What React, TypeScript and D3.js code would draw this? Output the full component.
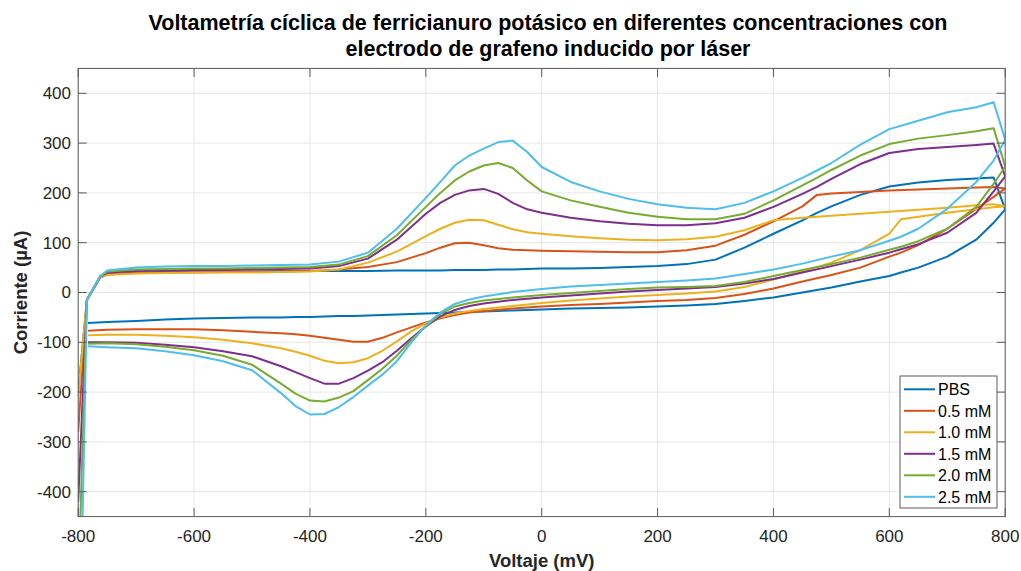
import React from "react";
import * as d3 from "d3";

// Voltage grids (mV)
const fwdV = [-800, -785, -762, -750, -700, -650, -600, -550, -500, -450, -400, -350, -300, -250, -200, -175, -150, -125, -100, -75, -50, -25, 0, 50, 100, 150, 200, 250, 300, 350, 400, 450, 475, 500, 550, 600, 650, 700, 750, 780, 800];
const revV = [800, 780, 750, 700, 650, 620, 600, 550, 500, 450, 400, 350, 300, 250, 200, 150, 100, 50, 0, -50, -100, -125, -150, -175, -200, -225, -250, -275, -300, -325, -350, -375, -400, -425, -450, -500, -550, -600, -650, -700, -750, -783];

// Currents (µA)
const pbsFwd = [-200, -15, 30, 36, 40, 41, 42, 42, 42, 43, 43, 43, 43, 44, 44, 44, 45, 45, 45, 46, 46, 47, 48, 48, 49, 51, 53, 57, 66, 90, 118, 145, 160, 173, 196, 213, 221, 226, 229, 231, 167];
const pbsRev = [167, 140, 106, 72, 50, 40, 33, 22, 10, 0, -10, -17, -23, -26, -28, -30, -31, -32, -34, -36, -38, -39, -40, -41, -42, -43, -44, -45, -46, -47, -47, -48, -49, -49, -50, -50, -51, -52, -54, -57, -59, -61];

const c05Fwd = [-280, -15, 32, 37, 39, 40, 40, 41, 41, 42, 43, 46, 51, 61, 79, 90, 99, 100, 95, 89, 86, 85, 84, 83, 82, 81, 81, 85, 94, 116, 143, 173, 196, 199, 202, 205, 207, 209, 211, 212, 209];
const c05Rev = [209, 192, 168, 128, 95, 80, 72, 50, 35, 22, 8, -3, -11, -15, -17, -20, -23, -25, -28, -32, -37, -40, -45, -52, -60, -70, -80, -91, -99, -99, -95, -91, -87, -84, -82, -79, -76, -74, -74, -74, -75, -77];

const c10Fwd = [-207, -12, 30, 35, 38, 39, 40, 40, 40, 41, 42, 46, 60, 82, 113, 128, 140, 146, 145, 136, 127, 121, 118, 113, 109, 106, 105, 107, 112, 125, 145, 150, 152, 154, 158, 162, 166, 170, 175, 177, 173];
const c10Rev = [173, 171, 167, 160, 152, 147, 118, 85, 60, 42, 26, 11, 2, -2, -5, -8, -12, -16, -21, -27, -33, -37, -42, -50, -62, -78, -98, -117, -132, -140, -142, -137, -127, -119, -112, -102, -95, -90, -87, -85, -85, -86];

const c15Fwd = [-420, -15, 32, 40, 43, 44, 45, 45, 46, 47, 48, 53, 68, 106, 158, 180, 196, 205, 208, 198, 180, 167, 160, 150, 143, 138, 135, 135, 139, 150, 172, 198, 212, 228, 258, 280, 288, 292, 296, 299, 233];
const c15Rev = [233, 203, 160, 120, 97, 87, 80, 66, 53, 40, 27, 18, 11, 8, 5, 2, -2, -6, -10, -15, -22, -27, -35, -48, -68, -92, -117, -140, -157, -172, -183, -183, -172, -160, -148, -128, -118, -110, -105, -101, -100, -100];

const c20Fwd = [-600, -15, 33, 42, 46, 47, 48, 48, 49, 50, 51, 56, 73, 115, 172, 200, 225, 243, 255, 260, 250, 225, 203, 185, 172, 160, 152, 147, 147, 158, 185, 215, 230, 246, 275, 298, 309, 316, 324, 330, 253];
const c20Rev = [253, 218, 172, 128, 103, 92, 86, 70, 57, 45, 33, 21, 13, 11, 10, 7, 3, -1, -5, -10, -16, -21, -28, -43, -68, -95, -127, -153, -176, -198, -211, -219, -217, -203, -183, -145, -127, -116, -109, -104, -102, -103];

const c25Fwd = [-900, -15, 33, 44, 50, 52, 53, 53, 54, 55, 56, 62, 80, 128, 190, 222, 255, 275, 289, 302, 305, 282, 252, 222, 203, 188, 177, 170, 167, 180, 203, 230, 245, 260, 297, 328, 345, 362, 372, 382, 307];
const c25Rev = [307, 265, 222, 168, 128, 112, 104, 85, 72, 58, 46, 37, 28, 24, 21, 18, 15, 12, 7, 1, -8, -14, -23, -40, -66, -100, -138, -165, -187, -210, -230, -244, -245, -228, -202, -156, -138, -126, -118, -112, -110, -108];

const seriesNames = ["PBS", "0.5 mM", "1.0 mM", "1.5 mM", "2.0 mM", "2.5 mM"];
const seriesColors = ["#0072BD", "#D95319", "#EDB120", "#7E2F8E", "#77AC30", "#4DBEEE"];
const seriesFwd = [pbsFwd, c05Fwd, c10Fwd, c15Fwd, c20Fwd, c25Fwd];
const seriesRev = [pbsRev, c05Rev, c10Rev, c15Rev, c20Rev, c25Rev];

const xTicks = [-800, -600, -400, -200, 0, 200, 400, 600, 800];
const yTicks = [-400, -300, -200, -100, 0, 100, 200, 300, 400];

const titleLines = [
  "Voltametría cíclica de ferricianuro potásico en diferentes concentraciones con",
  "electrodo de grafeno inducido por láser",
];
const xLabel = "Voltaje (mV)";
const yLabel = "Corriente (µA)";

export default function App() {
  const W = 1021;
  const H = 571;
  const x = d3.scaleLinear().domain([-800, 800]).range([78.2, 1005.2]);
  const y = d3.scaleLinear().domain([-450, 450]).range([516.6, 68.4]);
  const [x0, x1] = x.range();
  const [yb, yt] = y.range();
  const line = d3
    .line<[number, number]>()
    .x((d) => x(d[0]))
    .y((d) => y(d[1]));

  const font = "'Liberation Sans', Arial, Helvetica, sans-serif";
  const axisColor = "#5a5a5a";
  const tickLen = 8.5;

  const paths = seriesNames.map((_, i) => {
    const pts: [number, number][] = [];
    fwdV.forEach((v, j) => pts.push([v, seriesFwd[i][j]]));
    revV.forEach((v, j) => pts.push([v, seriesRev[i][j]]));
    return line(pts) || "";
  });

  const legX = 900;
  const legY = 376;
  const legW = 97;
  const legH = 132;
  const rowH = 21.5;

  return (
    <svg
      width={W}
      height={H}
      style={{ position: "absolute", left: 0, top: 0, background: "#fff" }}
      fontFamily={font}
    >
      <rect x={0} y={0} width={W} height={H} fill="#fff" />
      <defs>
        <clipPath id="plotClip">
          <rect x={x0} y={yt} width={x1 - x0} height={yb - yt} />
        </clipPath>
      </defs>

      {/* grid */}
      {xTicks.map((t) => (
        <line key={"gx" + t} x1={x(t)} x2={x(t)} y1={yt} y2={yb} stroke="#e6e6e6" strokeWidth={1} />
      ))}
      {yTicks.map((t) => (
        <line key={"gy" + t} x1={x0} x2={x1} y1={y(t)} y2={y(t)} stroke="#e6e6e6" strokeWidth={1} />
      ))}

      {/* data */}
      <g clipPath="url(#plotClip)">
        {paths.map((d, i) => (
          <path key={i} d={d} fill="none" stroke={seriesColors[i]} strokeWidth={2} strokeLinejoin="round" />
        ))}
      </g>

      {/* box */}
      <rect x={x0} y={yt} width={x1 - x0} height={yb - yt} fill="none" stroke={axisColor} strokeWidth={1} />

      {/* ticks */}
      {xTicks.map((t) => (
        <g key={"tx" + t}>
          <line x1={x(t)} x2={x(t)} y1={yb} y2={yb - tickLen} stroke={axisColor} />
          <line x1={x(t)} x2={x(t)} y1={yt} y2={yt + tickLen} stroke={axisColor} />
          <text x={x(t)} y={541.5} textAnchor="middle" fontSize={17} fill="#262626">
            {t}
          </text>
        </g>
      ))}
      {yTicks.map((t) => (
        <g key={"ty" + t}>
          <line x1={x0} x2={x0 + tickLen} y1={y(t)} y2={y(t)} stroke={axisColor} />
          <line x1={x1} x2={x1 - tickLen} y1={y(t)} y2={y(t)} stroke={axisColor} />
          <text x={71} y={y(t)} dy="0.35em" textAnchor="end" fontSize={17} fill="#262626">
            {t}
          </text>
        </g>
      ))}

      {/* labels */}
      <text x={(x0 + x1) / 2} y={567} textAnchor="middle" fontSize={18.5} fontWeight="bold" fill="#262626">
        {xLabel}
      </text>
      <text
        transform={`translate(27, ${(yt + yb) / 2}) rotate(-90)`}
        textAnchor="middle"
        fontSize={18.5}
        fontWeight="bold"
        fill="#262626"
      >
        {yLabel}
      </text>

      {/* title */}
      {titleLines.map((t, i) => (
        <text
          key={"title" + i}
          x={548}
          y={30 + i * 26}
          textAnchor="middle"
          fontSize={21.5}
          fontWeight="bold"
          fill="#000"
        >
          {t}
        </text>
      ))}

      {/* legend */}
      <rect x={legX} y={legY} width={legW} height={legH} fill="#fff" stroke={axisColor} strokeWidth={1} />
      {seriesNames.map((n, i) => {
        const cy = legY + 13.3 + i * rowH;
        return (
          <g key={"leg" + i}>
            <line x1={904} x2={935} y1={cy} y2={cy} stroke={seriesColors[i]} strokeWidth={2} />
            <text x={938} y={cy} dy="0.36em" fontSize={16} fill="#000">
              {n}
            </text>
          </g>
        );
      })}
    </svg>
  );
}
